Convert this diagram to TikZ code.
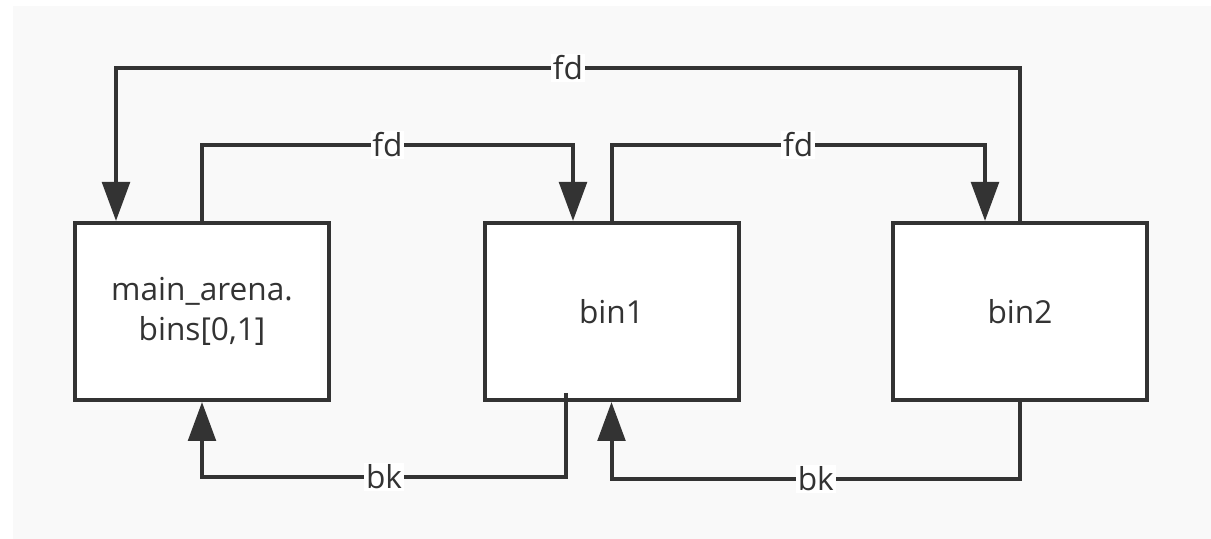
\documentclass[tikz,border=0pt]{standalone}
\usepackage{fontspec}
\setmainfont{Open Sans}
\usetikzlibrary{arrows.meta}
\definecolor{ink}{HTML}{333333}
\definecolor{paper}{HTML}{F9F9F9}
\begin{document}
\begin{tikzpicture}[
	box/.style={draw=ink,line width=0.08cm,fill=white,minimum width=5.08cm,minimum height=3.54cm,inner sep=0pt,align=center,text=ink},
	link/.style={draw=ink,line width=0.08cm,-{Triangle[length=0.78cm,width=0.55cm]}},
	lbl/.style={fill=white,text=ink,inner xsep=1pt,inner ysep=1pt},
	font=\fontsize{18}{22.7}\selectfont]
		\useasboundingbox (0,0) rectangle (24.22,-10.78);
		\fill[white] (0,0) rectangle (24.22,-10.78);
		\fill[paper] (0.26,-0.12) rectangle (24.22,-10.78);
		
		\node[box] (arena) at (4.04,-6.23) {main\_arena.\\bins[0,1]};
		\node[box] (bin1) at (12.23,-6.23) {bin1};
		\node[box] (bin2) at (20.40,-6.23) {bin2};
		\coordinate (bkstart) at (11.32,-7.86);
		
		\draw[link] (bin2.north) -- ++(0,3.06) -| node[lbl,pos=0.25] {fd} ([xshift=-1.72cm]arena.north);
		\draw[link] (arena.north) -- ++(0,1.52) -| node[lbl,pos=0.25] {fd} ([xshift=-0.77cm]bin1.north);
		\draw[link] (bin1.north) -- ++(0,1.52) -| node[lbl,pos=0.25] {fd} ([xshift=-0.70cm]bin2.north);
		\draw[link] (bkstart) -- ++(0,-1.68) -| node[lbl,pos=0.25] {bk} (arena.south);
		\draw[link] (bin2.south) -- ++(0,-1.54) -| node[lbl,pos=0.25] {bk} (bin1.south);
		%\draw[link] (bin1.south) -- (arena.south);
\end{tikzpicture}
\end{document}
